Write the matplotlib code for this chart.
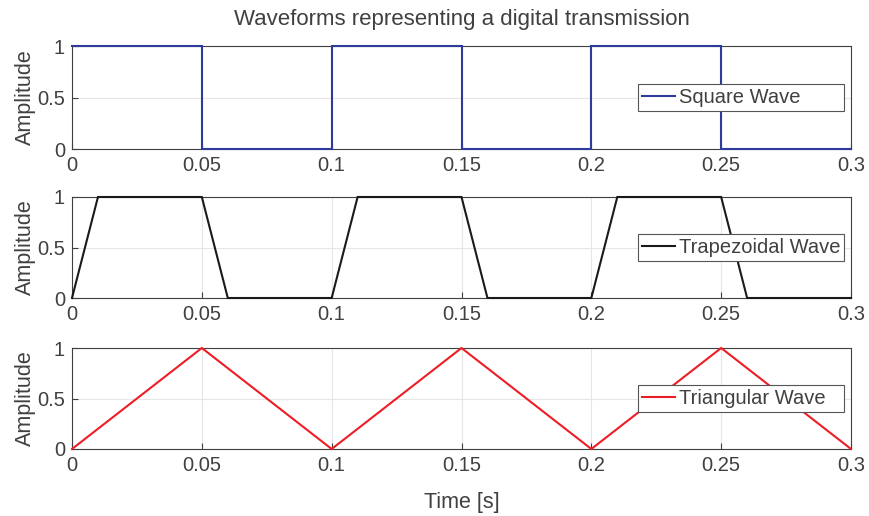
import matplotlib
matplotlib.use("Agg")
import matplotlib.pyplot as plt

# Data
square_t = [0, 0.05, 0.05, 0.10, 0.10, 0.15, 0.15, 0.20, 0.20, 0.25, 0.25, 0.30]
square_y = [1, 1, 0, 0, 1, 1, 0, 0, 1, 1, 0, 0]
trap_t = [0, 0.01, 0.05, 0.06, 0.10, 0.11, 0.15, 0.16, 0.20, 0.21, 0.25, 0.26, 0.30]
trap_y = [0, 1, 1, 0, 0, 1, 1, 0, 0, 1, 1, 0, 0]
tri_t = [0, 0.05, 0.10, 0.15, 0.20, 0.25, 0.30]
tri_y = [0, 1, 0, 1, 0, 1, 0]
xticks = [0, 0.05, 0.1, 0.15, 0.2, 0.25, 0.3]
xticklabels = ["0", "0.05", "0.1", "0.15", "0.2", "0.25", "0.3"]
yticks = [0, 0.5, 1]
yticklabels = ["0", "0.5", "1"]

plt.rcParams['font.family'] = ['Liberation Sans', 'DejaVu Sans']

TXT = '#404040'
fig = plt.figure(figsize=(8.69, 5.16), dpi=100)
left, width = 72/869, (851-72)/869
tops = [46, 197, 348]
bottoms = [149, 298, 449]

series = [
    (square_t, square_y, '#2E3A9C', 'Square Wave'),
    (trap_t, trap_y, '#1A1A1A', 'Trapezoidal Wave'),
    (tri_t, tri_y, '#EE1C25', 'Triangular Wave'),
]

leg_x0 = (638-72)/779
leg_w = (844-638)/779

axes = []
for i, (t, y, c, lab) in enumerate(series):
    b = 1 - bottoms[i]/516
    h = (bottoms[i] - tops[i])/516
    ax = fig.add_axes([left, b, width, h])
    ax.plot(t, y, color=c, lw=1.5, label=lab, solid_joinstyle='miter', clip_on=False, zorder=3)
    ax.set_xlim(0, 0.3)
    ax.set_ylim(0, 1)
    ax.set_xticks(xticks)
    ax.set_xticklabels(xticklabels)
    ax.set_yticks(yticks)
    ax.set_yticklabels(yticklabels)
    ax.grid(True, color='#E6E6E6', lw=0.8)
    ax.set_axisbelow(True)
    ax.tick_params(direction='in', length=4, width=0.8, colors='#404040',
                   labelcolor=TXT, labelsize=14.5, pad=5)
    for s in ax.spines.values():
        s.set_color('#404040')
        s.set_linewidth(0.8)
    ax.set_ylabel('Amplitude', fontsize=15.5, color=TXT, labelpad=1)
    h_leg = 29/(bottoms[i]-tops[i])
    leg = ax.legend(loc='center', fontsize=14.5, frameon=True, fancybox=False,
                    edgecolor='#555555', framealpha=1, borderpad=0.2,
                    handlelength=1.65, handletextpad=0.2,
                    bbox_to_anchor=(leg_x0, 0.5 - h_leg/2, leg_w, h_leg),
                    mode='expand', borderaxespad=0)
    leg.get_frame().set_linewidth(0.8)
    leg.set_zorder(5)
    for txt in leg.get_texts():
        txt.set_color(TXT)
    axes.append(ax)

axes[0].set_title('Waveforms representing a digital transmission', fontsize=16,
                  color=TXT, pad=15)
axes[2].set_xlabel('Time [s]', fontsize=15.5, color=TXT, labelpad=12)

fig.savefig('out.png', dpi=100)
